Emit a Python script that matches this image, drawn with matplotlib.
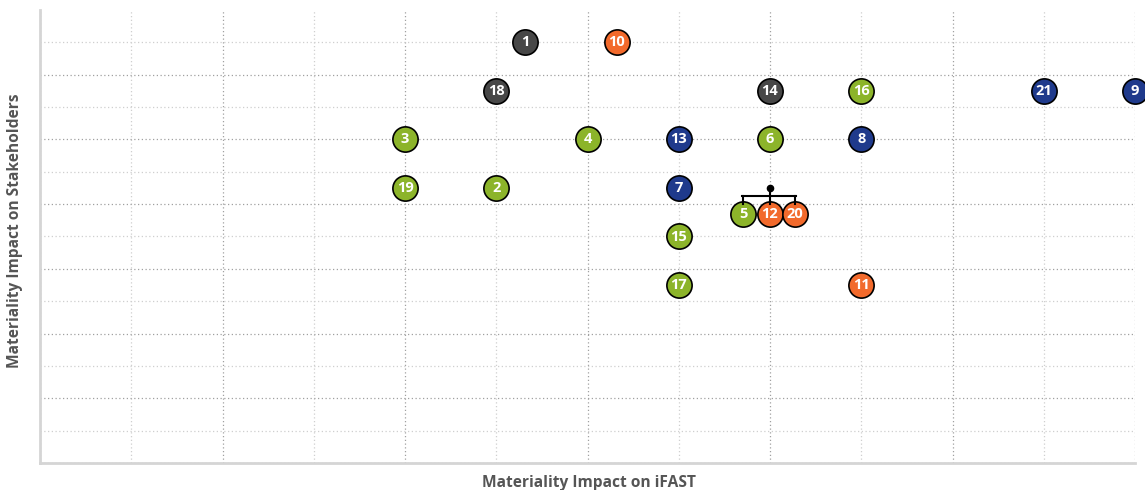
import matplotlib
matplotlib.use("Agg")
import matplotlib.pyplot as plt
import matplotlib.transforms as mtransforms
from matplotlib.lines import Line2D
import numpy as np

plt.rcParams['font.family'] = ['Open Sans', 'DejaVu Sans']

# ---- data ----
labels = ["1", "10", "18", "14", "16", "21", "9", "3", "4", "13", "6", "8",
          "19", "2", "7", "15", "17", "11"]
x_iFAST = [2.66, 3.16, 2.5, 4.0, 4.5, 5.5, 6.0, 2.0, 3.0, 3.5, 4.0, 4.5,
           2.0, 2.5, 3.5, 3.5, 3.5, 4.5]
y_stake = [6.5, 6.5, 5.75, 5.75, 5.75, 5.75, 5.75, 5.0, 5.0, 5.0, 5.0, 5.0,
           4.25, 4.25, 4.25, 3.5, 2.75, 2.75]
groups = ["gray", "orange", "gray", "gray", "green", "navy", "navy", "green", "green",
          "navy", "green", "navy", "green", "green", "navy", "green", "green", "orange"]

# overlapping cluster at one point
cluster_xy = (4.0, 4.25)
cluster_labels = ["5", "12", "20"]
cluster_groups = ["green", "orange", "orange"]

colors = {"gray": "#474747", "orange": "#f26a2c", "green": "#8cb42a", "navy": "#1f3a8c"}

x_label = "Materiality Impact on iFAST"
y_label = "Materiality Impact on Stakeholders"

# ---- figure ----
fig = plt.figure(figsize=(11.45, 4.9), dpi=100)
ax = fig.add_axes([40/1145, 27/490, 1095/1145, 453/490])
ax.set_xlim(0, 6)
ax.set_ylim(0, 7)

ax.set_xticks(np.arange(0, 7, 1))
ax.set_xticks(np.arange(0.5, 6, 1), minor=True)
ax.set_yticks(np.arange(0, 7, 1))
ax.set_yticks(np.arange(0.5, 7, 1), minor=True)
ax.grid(which='major', linestyle=(0, (1, 2)), color='#a0a0a0', linewidth=0.9)
ax.grid(which='minor', linestyle=(0, (1, 2)), color='#cfcfcf', linewidth=0.9)
ax.tick_params(which='both', length=0, labelbottom=False, labelleft=False)
for s in ['top', 'right']:
    ax.spines[s].set_visible(False)
for s in ['left', 'bottom']:
    ax.spines[s].set_color('#d5d5d5')
    ax.spines[s].set_linewidth(2)
ax.set_axisbelow(True)


def bubble(x, y, text, color, trans=None):
    kw = {} if trans is None else {"transform": trans}
    ax.scatter([x], [y], s=330, color=color, edgecolor='black', linewidth=1.2,
               zorder=5, clip_on=False, **kw)
    ax.text(x, y, text, color='white', fontsize=10.5, fontweight='bold',
            ha='center', va='center', zorder=6, clip_on=False, **kw)


for lab, xv, yv, g in zip(labels, x_iFAST, y_stake, groups):
    bubble(xv, yv, lab, colors[g])

# cluster: anchor dot + bracket + offset bubbles (offsets in pixels)
cx, cy = cluster_xy
px = 0.72  # points per pixel at 100 dpi
offsets = [-27, 0, 25]


def off(dx, dy):
    return mtransforms.offset_copy(ax.transData, fig=fig, x=dx*px, y=dy*px, units='points')


def seg(p0, p1):
    (x0, y0), (x1, y1) = p0, p1
    d = ax.transData.transform((cx, cy))
    fig.add_artist(Line2D([d[0] + x0, d[0] + x1], [d[1] + y0, d[1] + y1], transform=None,
                          color='black', lw=1.5, zorder=4))


fig.canvas.draw()
seg((0, 0), (0, -8))
seg((offsets[0] - 0.7, -8), (offsets[-1] + 0.7, -8))
for o in offsets:
    seg((o, -8), (o, -16))
ax.scatter([cx], [cy], s=20, color='black', zorder=7)
for o, lab, g in zip(offsets, cluster_labels, cluster_groups):
    bubble(cx, cy, lab, colors[g], trans=off(o, -26))

fig.text(589/1145, 1 - 483/490, x_label, ha='center', va='center', fontsize=11.2,
         fontweight='bold', color='#555555')
fig.text(15/1145, 1 - 231/490, y_label, ha='center', va='center', rotation=90, fontsize=11.2,
         fontweight='bold', color='#555555')

fig.savefig("out.png", dpi=100)
